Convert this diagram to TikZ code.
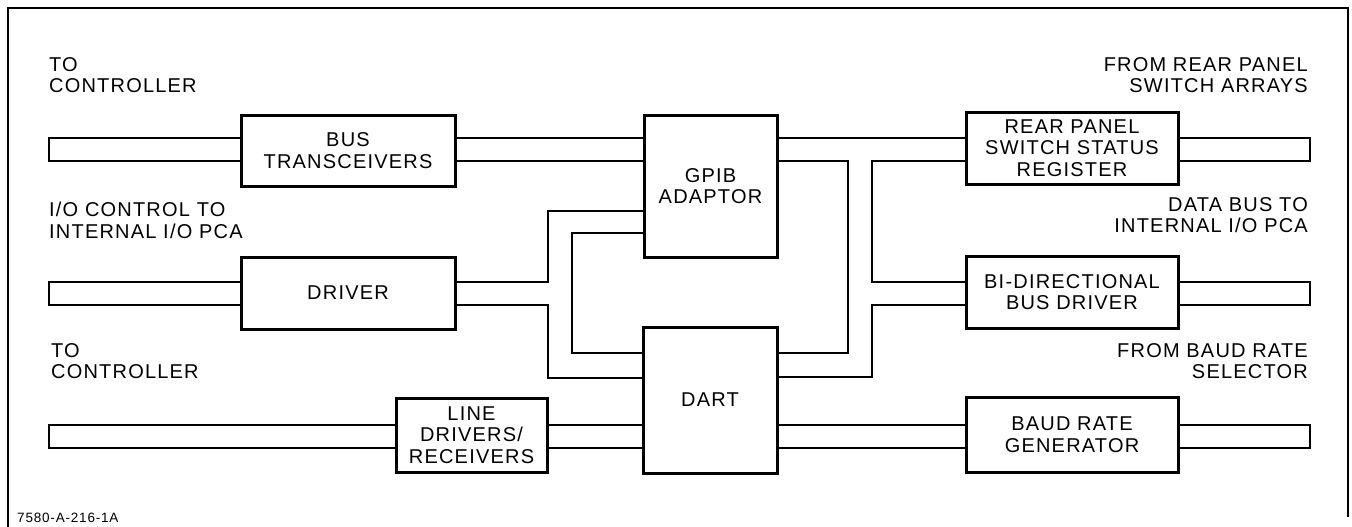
\documentclass[tikz,border=0pt]{standalone}
\usepackage{fontspec}
\setmainfont{Liberation Sans}[LetterSpace=6]
\newcommand\dlbl{\fontsize{20}{21.5}\selectfont}
\newcommand\dsmall{\fontsize{13.5}{15}\selectfont}
\begin{document}
\begin{tikzpicture}[x=1pt,y=-1pt,
  blk/.style={draw, line width=3pt, inner sep=0pt, align=center, font=\dlbl},
  conn/.style={line width=2pt},
  lab/.style={inner sep=0pt, font=\dlbl},
  frame/.style={line width=2.5pt}]
\useasboundingbox (0,0) rectangle (1352,527);
% frame
\coordinate (fbl) at (8,527);
\coordinate (ftl) at (8,8);
\coordinate (ftr) at (1348,8);
\coordinate (fbr) at (1348,517);
\draw[frame] (fbl) -- (ftl) -- (ftr) -- (fbr);
% blocks
\node[blk, minimum width=214pt, minimum height=71pt] (bus) at (348,150.5) {BUS\\TRANSCEIVERS};
\node[blk, minimum width=214pt, minimum height=72pt] (drv) at (348,293) {DRIVER};
\node[blk, minimum width=151pt, minimum height=74pt] (line) at (471.5,435) {LINE\\DRIVERS/\\RECEIVERS};
\node[blk, minimum width=133pt, minimum height=142pt] (gpib) at (710.5,186) {GPIB\\ADAPTOR};
\node[blk, minimum width=134pt, minimum height=146pt] (dart) at (710,400) {DART};
\node[blk, minimum width=212pt, minimum height=72pt] (rear) at (1072,148) {REAR PANEL\\SWITCH STATUS\\REGISTER};
\node[blk, minimum width=212pt, minimum height=72pt] (bidir) at (1072,292) {BI-DIRECTIONAL\\BUS DRIVER};
\node[blk, minimum width=212pt, minimum height=75pt] (baud) at (1072,434.5) {BAUD RATE\\GENERATOR};
% labels
\node[lab, anchor=north west, align=left] (l1) at (49,57) {TO\\CONTROLLER};
\node[lab, anchor=north west, align=left] (l2) at (49,202) {I/O CONTROL TO\\INTERNAL I/O PCA};
\node[lab, anchor=north west, align=left] (l3) at (51,343) {TO\\CONTROLLER};
\node[lab, anchor=north east, align=right] (r1) at (1308,57) {FROM REAR PANEL\\SWITCH ARRAYS};
\node[lab, anchor=north east, align=right] (r2) at (1308,197) {DATA BUS TO\\INTERNAL I/O PCA};
\node[lab, anchor=north east, align=right] (r3) at (1308,343) {FROM BAUD RATE\\SELECTOR};
\node[inner sep=0pt, font=\dsmall, anchor=base west] (fig) at (17,522) {7580-A-216-1A};
% stub ends
\coordinate (sL) at (49,0);
\coordinate (sR) at (1310,0);
% left stubs
\draw[conn] (bus.west |- 0,138) -- (sL |- 0,138) -- (sL |- 0,161) -- (bus.west |- 0,161);
\draw[conn] (drv.west |- 0,282) -- (sL |- 0,282) -- (sL |- 0,305) -- (drv.west |- 0,305);
\draw[conn] (line.west |- 0,425) -- (sL |- 0,425) -- (sL |- 0,448) -- (line.west |- 0,448);
% right stubs
\draw[conn] (rear.east |- 0,138) -- (sR |- 0,138) -- (sR |- 0,161) -- (rear.east |- 0,161);
\draw[conn] (bidir.east |- 0,282) -- (sR |- 0,282) -- (sR |- 0,305) -- (bidir.east |- 0,305);
\draw[conn] (baud.east |- 0,425) -- (sR |- 0,425) -- (sR |- 0,448) -- (baud.east |- 0,448);
% bus transceivers to GPIB
\draw[conn] (bus.east |- 0,138) -- (gpib.west |- 0,138);
\draw[conn] (bus.east |- 0,161) -- (gpib.west |- 0,161);
% driver
\draw[conn] (drv.east |- 0,282) -- (548,282) -- (548,211) -- (gpib.west |- 0,211);
\draw[conn] (drv.east |- 0,305) -- (548,305) -- (548,378) -- (dart.west |- 0,378);
% GPIB to DART left loop
\draw[conn] (gpib.west |- 0,233) -- (572,233) -- (572,353) -- (dart.west |- 0,353);
% line drivers to DART
\draw[conn] (line.east |- 0,425) -- (dart.west |- 0,425);
\draw[conn] (line.east |- 0,448) -- (dart.west |- 0,448);
% right side
\draw[conn] (gpib.east |- 0,138) -- (rear.west |- 0,138);
\draw[conn] (gpib.east |- 0,161) -- (848,161) -- (848,353) -- (dart.east |- 0,353);
\draw[conn] (rear.west |- 0,161) -- (872,161) -- (872,282) -- (bidir.west |- 0,282);
\draw[conn] (bidir.west |- 0,305) -- (872,305) -- (872,377) -- (dart.east |- 0,377);
\draw[conn] (dart.east |- 0,425) -- (baud.west |- 0,425);
\draw[conn] (dart.east |- 0,448) -- (baud.west |- 0,448);
\end{tikzpicture}
\end{document}
